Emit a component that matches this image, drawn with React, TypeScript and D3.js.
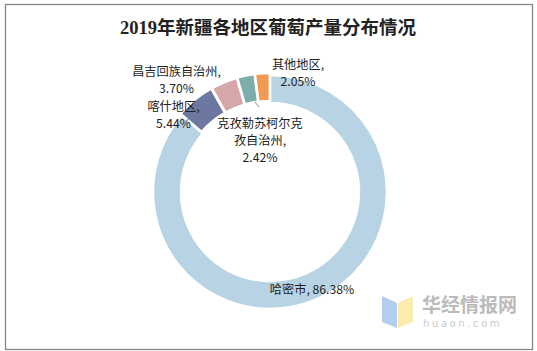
import React from 'react'
import * as d3 from 'd3'

const regions = ['哈密市', '喀什地区', '昌吉回族自治州', '克孜勒苏柯尔克孜自治州', '其他地区']
const shares = [86.38, 5.44, 3.70, 2.42, 2.05]
const colors = ['#b7d3e4', '#6c78a0', '#d5a7a8', '#7caeab', '#f19a54']
// label lines, already broken as in the picture
const labelLines = [
    ['哈密市, 86.38%'],
    ['喀什地区,', '5.44%'],
    ['昌吉回族自治州,', '3.70%'],
    ['克孜勒苏柯尔克', '孜自治州,', '2.42%'],
    ['其他地区,', '2.05%'],
]
const title = '2019年新疆各地区葡萄产量分布情况'

const W = 537
const H = 351

export default function App() {
    const cx = 270
    const cy = 192
    const outerR = 117
    const innerR = 89

    const data = regions.map((r, i) => ({ region: r, value: shares[i], color: colors[i], lines: labelLines[i] }))

    const pie = d3.pie<typeof data[0]>()
        .sort(null)
        .value(d => d.value)
        .startAngle(0)
        .endAngle(Math.PI * 2)

    const arcs = pie(data)

    const arc = d3.arc<d3.PieArcDatum<typeof data[0]>>()
        .innerRadius(innerR)
        .outerRadius(outerR)

    // small slices are pulled out a little, like in the source
    const explode = (d: d3.PieArcDatum<typeof data[0]>, i: number) => {
        if (i === 0) return [0, 0]
        const a = (d.startAngle + d.endAngle) / 2
        return [Math.sin(a) * 2, -Math.cos(a) * 2]
    }

    // label anchor positions (centre of the text block), relative to the chart centre
    const labelPos: [number, number][] = [
        [42, 97],
        [-96.5, -77.5],
        [-93.5, -112.5],
        [-10, -52],
        [28, -119.5],
    ]
    const lineH = 17

    return (
        <svg width={W} height={H} style={{ position: 'absolute', left: 0, top: 0, background: '#fff' }}>
            <rect x={5.5} y={4.5} width={527} height={345} fill="#fff" stroke="#868686" strokeWidth={1.3} />
            <text x={268} y={34} textAnchor="middle" fontSize={18.5} fontWeight="bold"
                fontFamily="'Liberation Serif', 'Noto Sans CJK SC', serif" fill="#222">{title}</text>

            <g transform={`translate(${cx},${cy})`}>
                {arcs.map((d, i) => {
                    const [dx, dy] = explode(d, i)
                    return (
                        <path key={d.data.region} d={arc(d) || ''} fill={d.data.color}
                            stroke="#fff" strokeWidth={2.5} transform={`translate(${dx},${dy})`} />
                    )
                })}

                {/* leader line of the 克孜勒苏 label */}
                <line x1={-15} y1={-90} x2={-11} y2={-85} stroke="#666" strokeWidth={0.8} />

                {arcs.map((d, i) => {
                    const [lx, ly] = labelPos[i]
                    const n = d.data.lines.length
                    return (
                        <text key={d.data.region} textAnchor="middle" fontSize={12.2}
                            fontFamily="'Noto Sans CJK SC', sans-serif" fill="#222">
                            {d.data.lines.map((t, j) => (
                                <tspan key={j} x={lx} y={ly + (j - (n - 1) / 2) * lineH + 4.5}>{t}</tspan>
                            ))}
                        </text>
                    )
                })}
            </g>

            {/* watermark */}
            <g opacity={0.9}>
                <polygon points="382,296 397,303 397,328 382,322" fill="#a9c9f0" />
                <polygon points="398,303 413,296 413,322 398,328" fill="#fce9a6" />
                <text x={422} y={312} fontSize={19} fontWeight="bold"
                    fontFamily="'Noto Sans CJK SC', sans-serif" fill="#b4b4b4">华经情报网</text>
                <text x={423} y={327} fontSize={10} letterSpacing={2.6}
                    fontFamily="'DejaVu Sans', sans-serif" fill="#c4c4c4">huaon.com</text>
            </g>
        </svg>
    )
}
